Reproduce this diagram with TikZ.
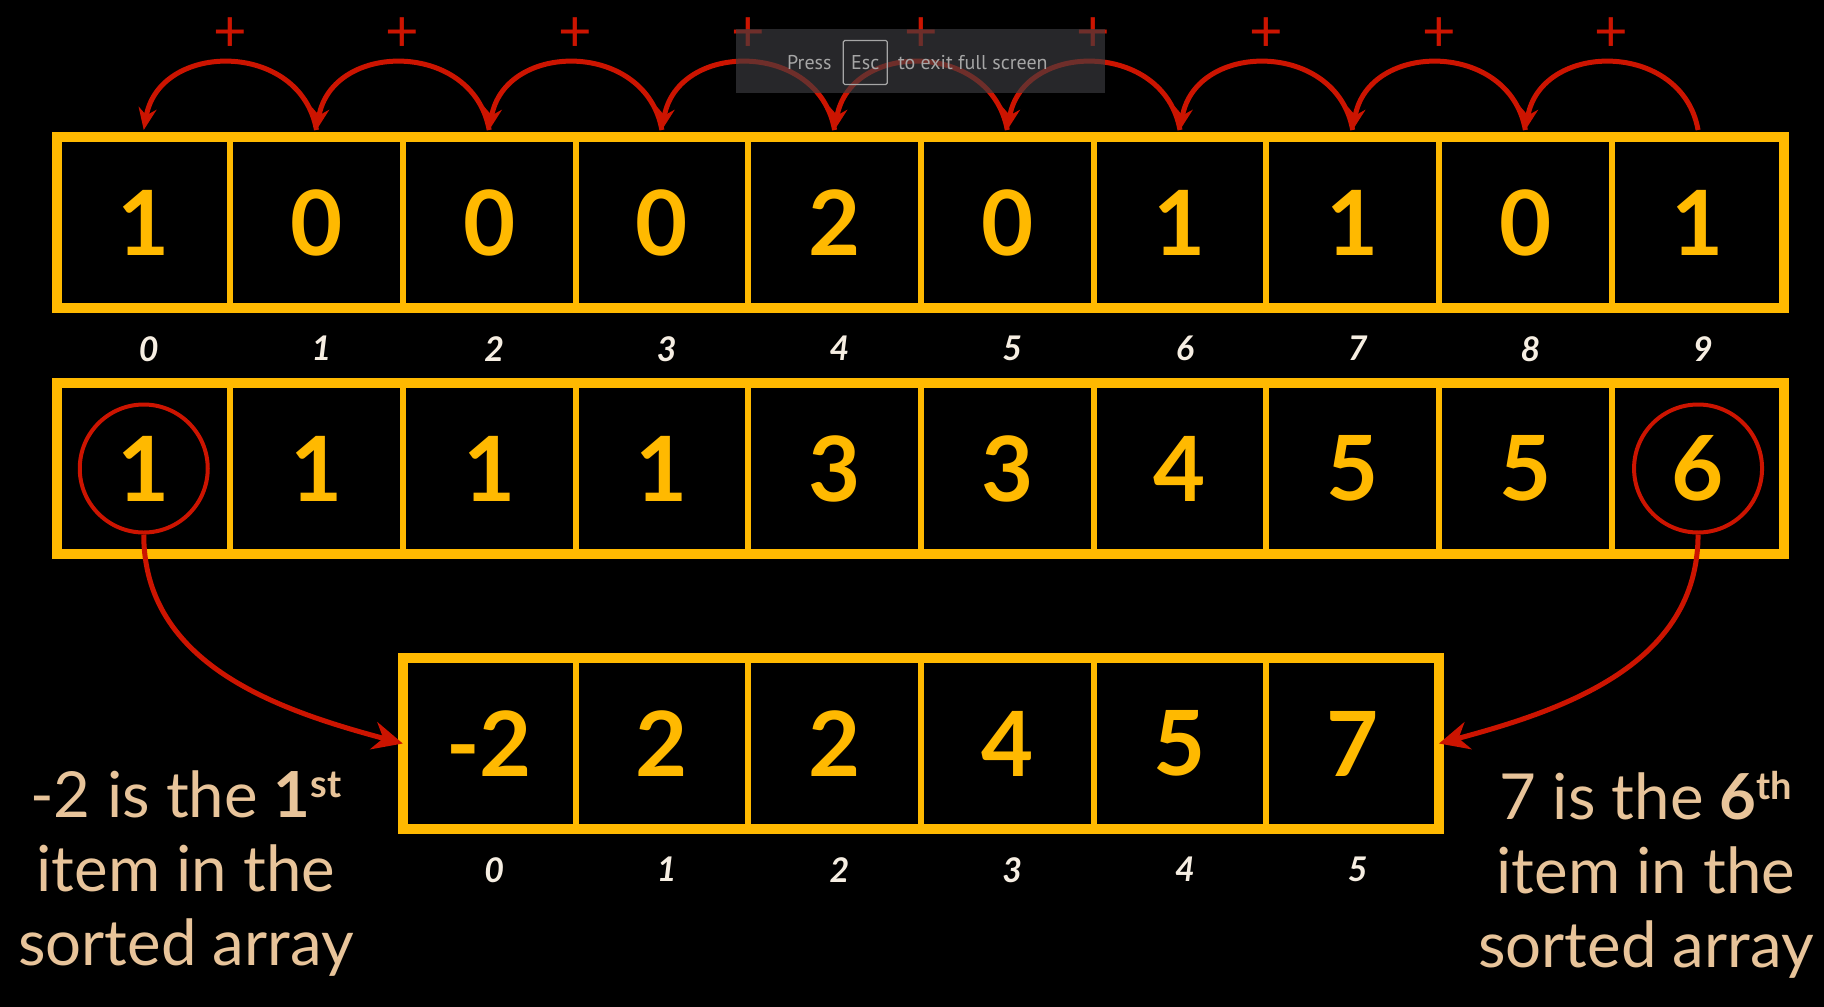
\documentclass[tikz,border=0pt]{standalone}
\usepackage{fontspec}
\setmainfont{Lato}
\newfontfamily\uifont{PT Sans}
\usetikzlibrary{positioning,arrows.meta}

\definecolor{gold}{HTML}{FFB900}
\definecolor{hopred}{HTML}{CC1400}
\definecolor{cream}{HTML}{F6EEE2}
\definecolor{sand}{HTML}{E8C49A}
\definecolor{uigray}{HTML}{A6A6A6}
\definecolor{uibox}{HTML}{3C3D41}

\newcommand{\ordmark}[2]{\textbf{#1\raisebox{20pt}{\fontsize{38}{38}\selectfont #2}}}

\begin{document}
\begin{tikzpicture}[
        x=1pt, y=1pt,
        cell/.style={draw=gold, line width=6pt, minimum width=172.7pt, minimum height=171pt,
            inner sep=0pt, outer sep=0pt, text=gold, font=\fontsize{90}{90}\selectfont\bfseries}, % ячейка массива
        frame/.style={draw=gold, line width=10pt}, % внешняя рамка
        idx/.style={inner sep=0pt, xshift=5pt, text=cream, font=\fontsize{34}{34}\selectfont\bfseries\itshape}, % индексы
        hop/.style={draw=hopred, line width=5pt, -{Stealth[length=22pt, width=18pt]}}, % дуги сверху
        plus/.style={inner sep=0pt, text=hopred, font=\fontsize{58}{58}\selectfont},
        ring/.style={circle, draw=hopred, line width=4pt, minimum size=128pt, inner sep=0pt},
        pick/.style={draw=hopred, line width=5pt, -{Stealth[length=30pt, width=28pt]}},
        note/.style={inner sep=0pt, align=center, text=sand, font=\fontsize{63.5}{74}\selectfont}, % подписи по бокам
        fsbox/.style={fill=uibox, opacity=0.65, minimum width=369pt, minimum height=64pt, inner sep=0pt},
        fstext/.style={inner sep=0pt, text=uigray, font=\uifont\fontsize{20}{20}\selectfont},
        fskey/.style={fstext, draw=uigray, line width=1.2pt, rounded corners=1.5pt, minimum width=44pt, minimum height=44pt},
    ]

    \path[fill=black, use as bounding box] (0,0) rectangle (1824,-1007);

    % массивы
    \node[cell] (t0) at (143.75,-222.5) {1};
    \foreach \v [count=\i, remember=\i as \p (initially 0)] in {0,0,0,2,0,1,1,0,1}
        \node[cell, right=0pt of t\p] (t\i) {\v};
    \node[cell, below=75pt of t0] (m0) {1};
    \foreach \v [count=\i, remember=\i as \p (initially 0)] in {1,1,1,3,3,4,5,5,6}
        \node[cell, right=0pt of m\p] (m\i) {\v};
    \node[cell, below=104pt of m2] (b0) {-2};
    \foreach \v [count=\i, remember=\i as \p (initially 0)] in {2,2,4,5,7}
        \node[cell, right=0pt of b\p] (b\i) {\v};

    \draw[frame] (t0.north west) rectangle (t9.south east);
    \draw[frame] (m0.north west) rectangle (m9.south east);
    \draw[frame] (b0.north west) rectangle (b5.south east);

    \foreach \i in {0,...,9} \node[idx, below=28pt of t\i] (ti\i) {\i};
    \foreach \i in {0,...,5} \node[idx, below=28pt of b\i] (bi\i) {\i};

    % дуги с плюсами
    \foreach \i [count=\j] in {0,...,8} {
        \draw[hop] ([yshift=7pt]t\j.north) to[out=100, in=80, looseness=1.35] ([yshift=7pt]t\i.north);
        \node[plus] (p\i) at ([yshift=102.5pt]t\i.north east) {+};
    }

    \node[ring] (r0) at (m0) {};
    \node[ring] (r9) at (m9) {};
    \draw[pick] (r0.south) to[out=-90, in=165] (b0.west);
    \draw[pick] (r9.south) to[out=-90, in=15] (b5.east);

    \node[note, anchor=north] (lnote) at (186,-771) {-2 is the \ordmark{1}{st}\\item in the\\sorted array};
    \node[note, anchor=north] (rnote) at (1646,-771) {7 is the \ordmark{6}{th}\\item in the\\sorted array};

    % плашка полноэкранного режима
    \node[fsbox] (fs) at (920.5,-61) {};
    \node[fstext, anchor=base west] (press) at (787,-69.3) {Press};
    \node[fskey, base right=11pt of press] (esc) {Esc};
    \node[fstext, base right=10pt of esc] (exit) {to exit full screen};
\end{tikzpicture}
\end{document}
